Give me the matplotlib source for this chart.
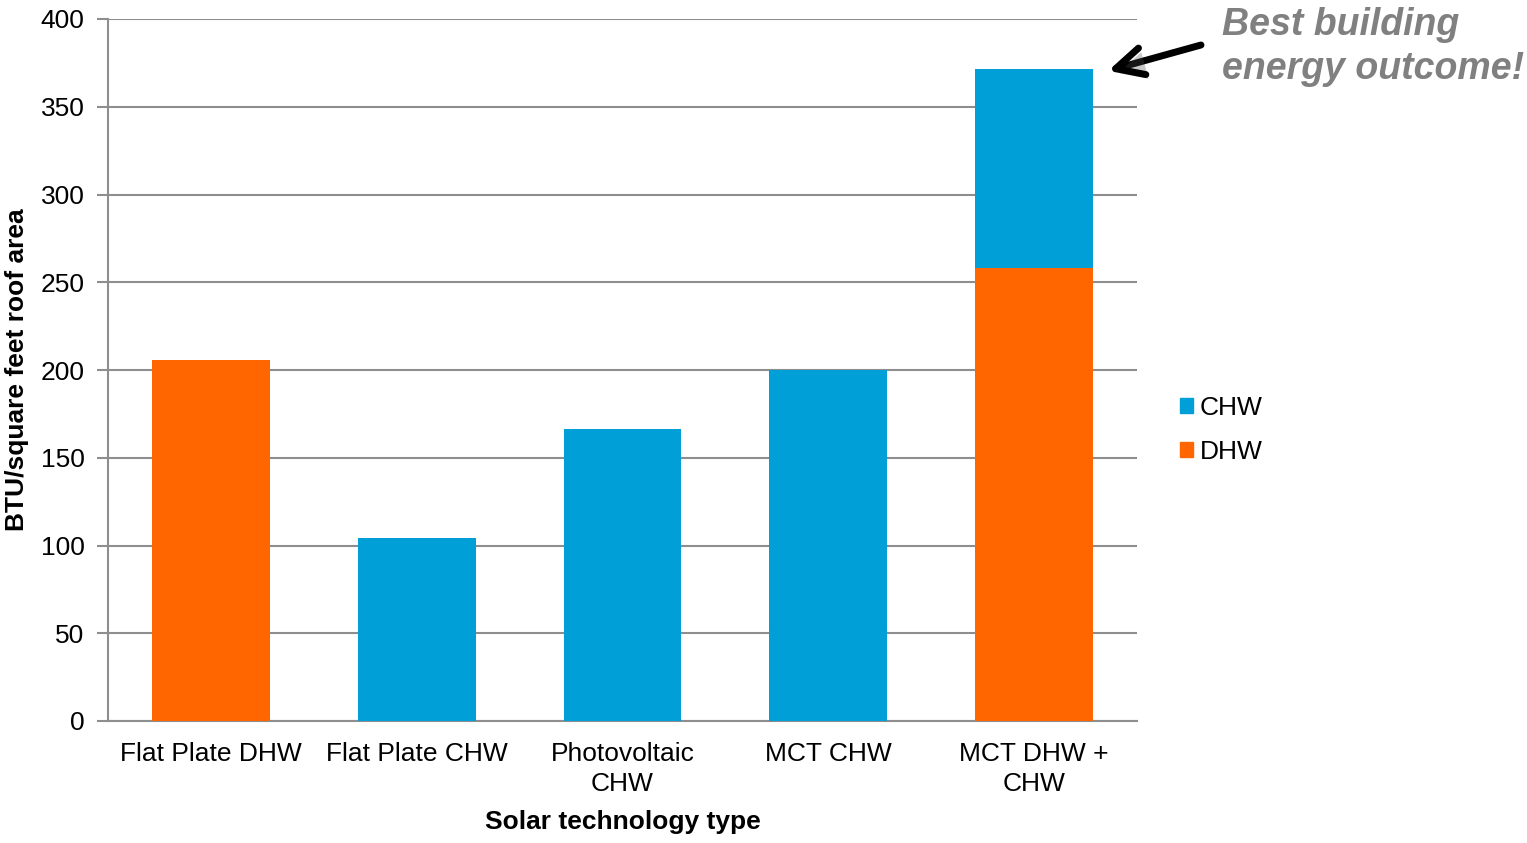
"""Solar technology comparison: stacked bar of CHW and DHW per roof area."""

import matplotlib
matplotlib.use("Agg")
import numpy as np
import matplotlib.pyplot as plt
import matplotlib.patheffects as pe
from matplotlib.patches import Patch

plt.rcParams['font.family'] = ['Liberation Sans', 'DejaVu Sans']

CATEGORIES = ["Flat Plate DHW", "Flat Plate CHW", "Photovoltaic\nCHW", "MCT CHW", "MCT DHW +\nCHW"]
DHW_VALUES = [205.7, 0, 0, 0, 258.3]
CHW_VALUES = [0, 104.4, 166.4, 200.2, 113.2]

DHW_COLOR = '#FF6600'
CHW_COLOR = '#009FD7'
GRID_COLOR = '#8E8E8E'

fig = plt.figure(figsize=(15.27, 8.43), dpi=100)
ax = fig.add_axes([108 / 1527, 1 - 721 / 843, (1137 - 108) / 1527, (721 - 19) / 843])

x = np.arange(len(CATEGORIES))
ax.bar(x, DHW_VALUES, width=0.573, color=DHW_COLOR, zorder=3)
ax.bar(x, CHW_VALUES, width=0.573, bottom=DHW_VALUES, color=CHW_COLOR, zorder=3)

ax.set_xlim(-0.5, len(CATEGORIES) - 0.5)
ax.set_ylim(0, 400)
ax.set_yticks(np.arange(0, 401, 50))
ax.set_xticks(x)
ax.set_xticklabels(CATEGORIES, fontsize=19, linespacing=1.35)
ax.tick_params(axis='y', labelsize=19, length=8, width=1.5, color=GRID_COLOR, pad=9)
ax.tick_params(axis='x', length=0, pad=15)

ax.grid(axis='y', color=GRID_COLOR, linewidth=1.5, zorder=0)
for side in ['top', 'right']:
    ax.spines[side].set_visible(False)
for side in ['left', 'bottom']:
    ax.spines[side].set_color(GRID_COLOR)
    ax.spines[side].set_linewidth(1.5)

ax.set_xlabel("Solar technology type", fontsize=19, fontweight='bold', labelpad=10)
ax.set_ylabel("BTU/square feet roof area", fontsize=19, fontweight='bold', labelpad=8)

# legend sits outside the plot on the right
handles = [Patch(color=CHW_COLOR, label='CHW'), Patch(color=DHW_COLOR, label='DHW')]
fig.legend(handles=handles, loc='center left', bbox_to_anchor=(1156 / 1527, 1 - 430 / 843),
           frameon=False, fontsize=19, handlelength=0.5, handleheight=0.5,
           handletextpad=0.25, labelspacing=0.75)

# callout text and arrow pointing at the tallest bar
fig.text(1222 / 1527, 1 - 47 / 843, "Best building\nenergy outcome!",
         fontsize=27, fontweight='bold', fontstyle='italic', color='#808080',
         ha='left', va='center', linespacing=1.3)

total_top = DHW_VALUES[-1] + CHW_VALUES[-1]
ax.annotate("", xy=(4.36, total_top - 1), xycoords='data',
            xytext=(1201 / 1527, 1 - 45 / 843), textcoords='figure fraction',
            annotation_clip=False,
            arrowprops=dict(arrowstyle='->,head_length=0.9,head_width=0.45', lw=5,
                            mutation_scale=22, color='black', shrinkA=0, shrinkB=0,
                            path_effects=[pe.SimplePatchShadow(offset=(2, -3), alpha=0.3),
                                          pe.Normal()]))

fig.savefig('out.png', dpi=100)
